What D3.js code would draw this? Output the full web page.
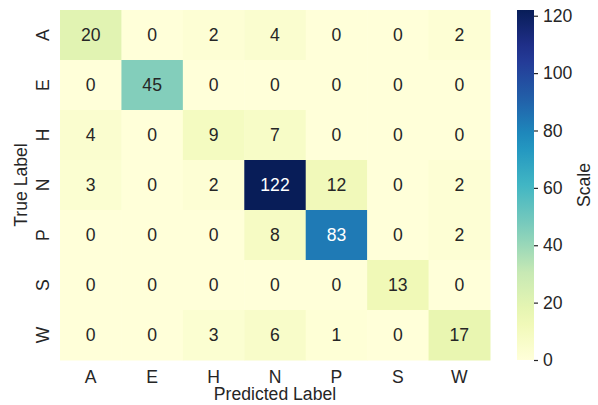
<!DOCTYPE html>
<html>
<head>
<meta charset="utf-8">
<script src="https://cdn.jsdelivr.net/npm/d3@7"></script>
<style>
  body { margin: 0; background: #fff; }
  text { font-family: "Liberation Sans", Arial, sans-serif; fill: #262626; }
</style>
</head>
<body>
<script>
var labels = ['A', 'E', 'H', 'N', 'P', 'S', 'W'];
var matrix = [
  [20, 0, 2, 4, 0, 0, 2],
  [0, 45, 0, 0, 0, 0, 0],
  [4, 0, 9, 7, 0, 0, 0],
  [3, 0, 2, 122, 12, 0, 2],
  [0, 0, 0, 8, 83, 0, 2],
  [0, 0, 0, 0, 0, 13, 0],
  [0, 0, 3, 6, 1, 0, 17]
];
var cbTicks = [0, 20, 40, 60, 80, 100, 120];
var ylgnbu = ['#ffffd9', '#edf8b1', '#c7e9b4', '#7fcdbb', '#41b6c4',
              '#1d91c0', '#225ea8', '#253494', '#081d58'];

var width = 598,
    height = 405,
    mLeft = 60, mTop = 10, mRight = 490, mBottom = 360,
    fs = '17.6px';

var svg = d3.select('body')
    .append('svg')
    .attr('width', width)
    .attr('height', height);

var vmax = d3.max(matrix, r => d3.max(r));
var color = d3.scaleLinear()
    .domain(ylgnbu.map((c, i) => i * vmax / (ylgnbu.length - 1)))
    .range(ylgnbu)
    .interpolate(d3.interpolateRgb);

var x = d3.scaleBand().domain(labels).range([mLeft, mRight]);
var y = d3.scaleBand().domain(labels).range([mTop, mBottom]);

var cells = [];
matrix.forEach((row, i) => row.forEach((v, j) => cells.push({t: labels[i], p: labels[j], v: v})));

svg.selectAll('rect.cell')
    .data(cells)
    .enter()
    .append('rect')
    .attr('class', 'cell')
    .attr('x', d => x(d.p))
    .attr('y', d => y(d.t))
    .attr('width', x.bandwidth() + 0.5)
    .attr('height', y.bandwidth() + 0.5)
    .attr('fill', d => color(d.v));

svg.selectAll('text.ann')
    .data(cells)
    .enter()
    .append('text')
    .attr('class', 'ann')
    .attr('x', d => x(d.p) + x.bandwidth() / 2)
    .attr('y', d => y(d.t) + y.bandwidth() / 2)
    .attr('dy', '0.36em')
    .attr('text-anchor', 'middle')
    .style('font-size', fs)
    .style('fill', d => d.v > 70 ? '#ffffff' : '#262626')
    .text(d => d.v);

// x tick labels
svg.selectAll('text.xt')
    .data(labels)
    .enter()
    .append('text')
    .attr('class', 'xt')
    .attr('x', d => x(d) + x.bandwidth() / 2)
    .attr('y', 382.5)
    .attr('text-anchor', 'middle')
    .style('font-size', fs)
    .text(d => d);

// y tick labels, rotated
svg.selectAll('text.yt')
    .data(labels)
    .enter()
    .append('text')
    .attr('class', 'yt')
    .attr('transform', d => 'translate(49,' + (y(d) + y.bandwidth() / 2) + ') rotate(-90)')
    .attr('text-anchor', 'middle')
    .style('font-size', fs)
    .text(d => d);

svg.append('text')
    .attr('x', (mLeft + mRight) / 2)
    .attr('y', 400)
    .attr('text-anchor', 'middle')
    .style('font-size', fs)
    .text('Predicted Label');

svg.append('text')
    .attr('transform', 'translate(27,' + (mTop + mBottom) / 2 + ') rotate(-90)')
    .attr('text-anchor', 'middle')
    .style('font-size', fs)
    .text('True Label');

// colorbar
var cbX = 517, cbW = 17;
var cy = d3.scaleLinear().domain([0, vmax]).range([mBottom, mTop]);
var defs = svg.append('defs');
var grad = defs.append('linearGradient')
    .attr('id', 'cbgrad')
    .attr('x1', 0).attr('y1', 1).attr('x2', 0).attr('y2', 0);
grad.selectAll('stop')
    .data(d3.range(0, 1.0001, 0.05))
    .enter()
    .append('stop')
    .attr('offset', d => d)
    .attr('stop-color', d => color(d * vmax));

svg.append('rect')
    .attr('x', cbX)
    .attr('y', mTop)
    .attr('width', cbW)
    .attr('height', mBottom - mTop)
    .attr('fill', 'url(#cbgrad)');

var cbAxis = svg.append('g')
    .attr('transform', 'translate(' + (cbX + cbW) + ',0)')
    .call(d3.axisRight(cy).tickValues(cbTicks).tickSize(4).tickPadding(5));
cbAxis.select('.domain').remove();
cbAxis.selectAll('line').attr('stroke', '#262626').attr('stroke-width', 1.2);
cbAxis.selectAll('text')
    .style('font-size', fs)
    .style('font-family', '"Liberation Sans", Arial, sans-serif')
    .attr('fill', '#262626');

svg.append('text')
    .attr('transform', 'translate(590,' + (mTop + mBottom) / 2 + ') rotate(-90)')
    .attr('text-anchor', 'middle')
    .style('font-size', fs)
    .text('Scale');
</script>
</body>
</html>
